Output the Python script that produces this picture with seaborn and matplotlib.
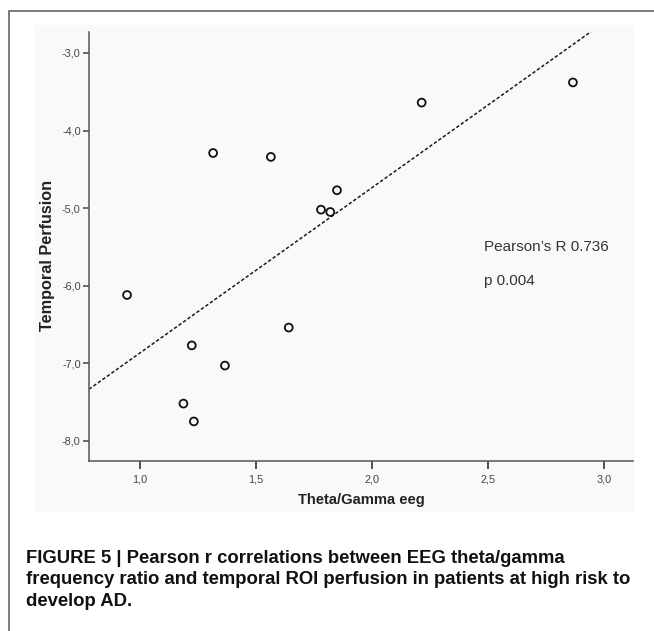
import seaborn as sns
import matplotlib.pyplot as plt
from matplotlib import font_manager
from matplotlib.patches import Rectangle
from matplotlib.ticker import FuncFormatter

sns.set_theme(style="ticks")

# values
theta_gamma = [0.944, 1.315, 1.564, 1.849, 1.780, 1.820, 2.214, 2.866,
               1.641, 1.223, 1.366, 1.187, 1.232]
temporal_perfusion = [-6.12, -4.29, -4.34, -4.77, -5.02, -5.05, -3.64, -3.38,
                      -6.54, -6.77, -7.03, -7.52, -7.75]
x_ticks = [1.0, 1.5, 2.0, 2.5, 3.0]
y_ticks = [-8.0, -7.0, -6.0, -5.0, -4.0, -3.0]
stats_lines = ["Pearson\u2019s R 0.736", "p 0.004"]
caption = ("FIGURE 5 | Pearson r correlations between EEG theta/gamma\n"
           "frequency ratio and temporal ROI perfusion in patients at high risk to\n"
           "develop AD.")


def pick_font(names, default="DejaVu Sans"):
    for name in names:
        try:
            font_manager.findfont(font_manager.FontProperties(family=name),
                                  fallback_to_default=False)
            return name
        except Exception:
            pass
    return default


regular = pick_font(["Liberation Sans", "Arial"])
plt.rcParams['font.family'] = [regular, 'DejaVu Sans']

fig = plt.figure(figsize=(6.54, 6.31), dpi=100)
W, H = 654, 631

# outer frame (left and top edges visible)
fig.patches.append(Rectangle((8.5 / W, -0.2), 2.0, 1.2 - 10.5 / H, transform=fig.transFigure,
                             fill=False, edgecolor='#666666', linewidth=1.2, zorder=-2))
# faint background of the pasted chart image
fig.patches.append(Rectangle((35 / W, 1 - 512 / H), 600 / W, 487 / H, transform=fig.transFigure,
                             facecolor='#f9f9f9', edgecolor='none', zorder=-1))

ax = fig.add_axes([89 / W, 1 - 461 / H, 544 / W, 429 / H])
ax.set_zorder(1)
ax.patch.set_visible(False)
ax.set_xlim(0.78, 3.125)
ax.set_ylim(-8.26, -2.73)

sns.scatterplot(x=theta_gamma, y=temporal_perfusion, ax=ax, marker='o', s=32,
                facecolors='none', edgecolor='#111111', linewidth=1.3, zorder=3)
sns.regplot(x=theta_gamma, y=temporal_perfusion, ax=ax, scatter=False, ci=None,
            truncate=False, color='#1a1a1a',
            line_kws={'linewidth': 1.1, 'linestyle': (0, (2.2, 1.4))})

ax.set_xticks(x_ticks)
ax.set_yticks(y_ticks)
comma = FuncFormatter(lambda v, p: f"{v:.1f}".replace('.', ','))
ax.xaxis.set_major_formatter(comma)
ax.yaxis.set_major_formatter(comma)
ax.tick_params(axis='both', labelsize=7.8, labelcolor='#444444')
ax.tick_params(axis='y', direction='out', length=4.5, width=1.1, color='#444444', pad=1.5)
ax.tick_params(axis='x', direction='out', length=6, width=1.3, color='#444444', pad=3.5)

sns.despine(ax=ax)
for side in ['left', 'bottom']:
    ax.spines[side].set_color('#555555')
    ax.spines[side].set_linewidth(1.1)

ax.set_xlabel("Theta/Gamma eeg", fontsize=10.6, fontweight='bold', color='#222222')
ax.set_ylabel("Temporal Perfusion", fontsize=11.7, fontweight='bold', color='#222222')
ax.xaxis.set_label_coords(0.5, -0.091)
ax.yaxis.set_label_coords(-0.077, 0.48)
ax.xaxis.label.set_va('center')
ax.yaxis.label.set_va('center')

fig.text(484 / W, 1 - 247 / H, stats_lines[0], fontsize=11,
         color='#333333', va='center', ha='left')
fig.text(484 / W, 1 - 281 / H, stats_lines[1], fontsize=11,
         color='#333333', va='center', ha='left')

fig.text(26 / W, 1 - 550 / H, caption, fontsize=13.3, fontweight='bold',
         color='#111111', va='top', ha='left', linespacing=1.34)

fig.savefig('out.png', dpi=100)
